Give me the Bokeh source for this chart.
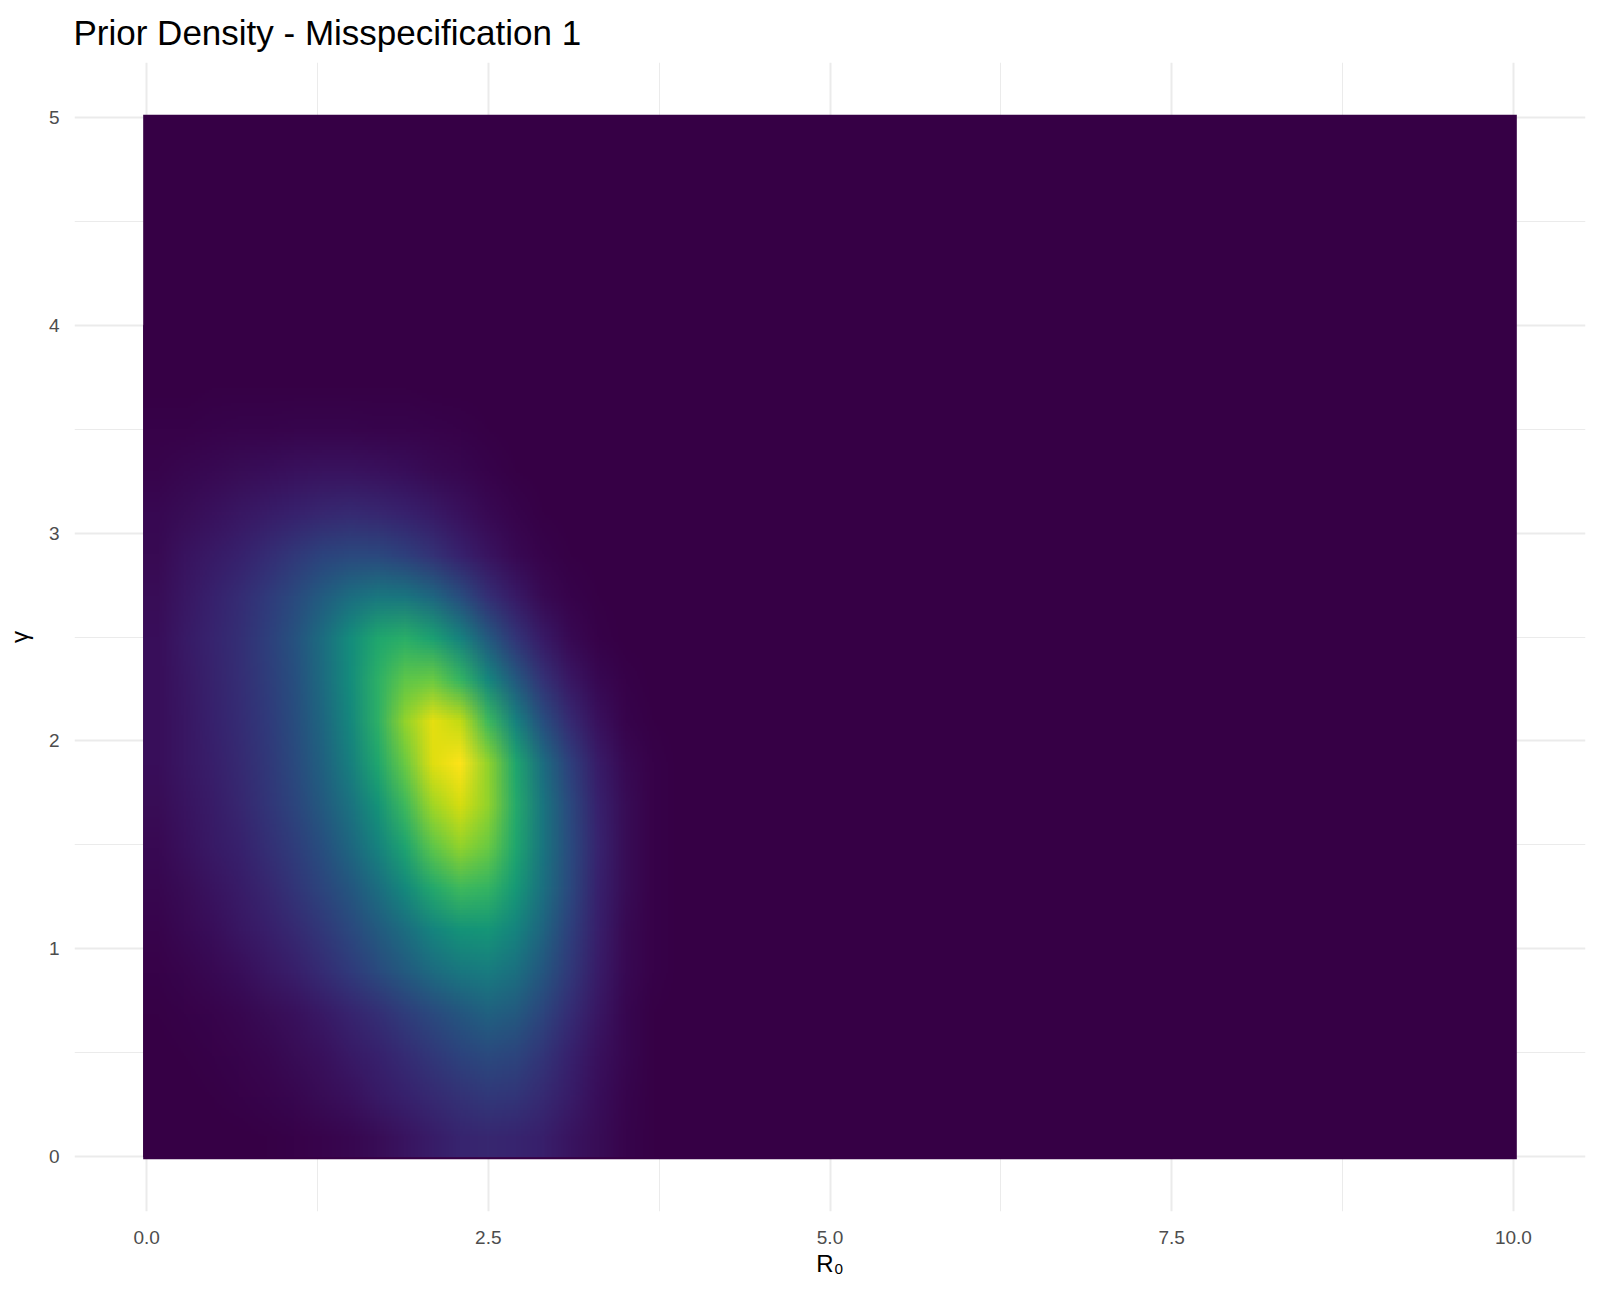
import base64
import struct
import zlib

import numpy as np
from bokeh.plotting import figure
from bokeh.models import FixedTicker, PrintfTickFormatter, Range1d
from bokeh.palettes import Viridis256
from bokeh.embed import file_html
from bokeh.resources import INLINE

# ---- data ---------------------------------------------------------------
title_text = "Prior Density - Misspecification 1"
x_label = "R\u2080"
y_label = "\u03b3"

r0_limits = [0.0, 10.0]
gamma_limits = [0.0, 5.0]
grid_cells = 200  # raster resolution of the original density grid

x_ticks = [0.0, 2.5, 5.0, 7.5, 10.0]
x_minor = [1.25, 3.75, 6.25, 8.75]
y_ticks = [0, 1, 2, 3, 4, 5]
y_minor = [0.5, 1.5, 2.5, 3.5, 4.5]

# cell centres of the read-off sub-grid (outside it the density is ~0)
r0_centres = [0.1, 0.3, 0.5, 0.7, 0.9, 1.1, 1.3, 1.5, 1.7, 1.9,
              2.1, 2.3, 2.5, 2.7, 2.9, 3.1, 3.3, 3.5, 3.7, 3.9]
gamma_centres = [0.1, 0.3, 0.5, 0.7, 0.9, 1.1, 1.3, 1.5, 1.7, 1.9,
                 2.1, 2.3, 2.5, 2.7, 2.9, 3.1, 3.3, 3.5, 3.7, 3.9]

# normalised density (0..1) along R0, one row per gamma centre
dens_g01 = [0, 0, 0, 0, 0.005, 0.01, 0.02, 0.03, 0.05, 0.08, 0.11, 0.14, 0.15, 0.14, 0.12, 0.08, 0.05, 0.02, 0.005, 0]
dens_g03 = [0, 0, 0.005, 0.01, 0.02, 0.03, 0.05, 0.07, 0.10, 0.13, 0.16, 0.19, 0.21, 0.20, 0.16, 0.11, 0.06, 0.025, 0.005, 0]
dens_g05 = [0, 0.005, 0.01, 0.02, 0.03, 0.05, 0.07, 0.10, 0.13, 0.17, 0.21, 0.25, 0.28, 0.26, 0.20, 0.13, 0.07, 0.03, 0.005, 0]
dens_g07 = [0.005, 0.01, 0.02, 0.03, 0.05, 0.07, 0.10, 0.14, 0.18, 0.23, 0.28, 0.33, 0.37, 0.34, 0.26, 0.17, 0.09, 0.03, 0.005, 0]
dens_g09 = [0.01, 0.025, 0.04, 0.06, 0.09, 0.12, 0.17, 0.22, 0.28, 0.34, 0.41, 0.46, 0.48, 0.43, 0.33, 0.21, 0.11, 0.04, 0.01, 0]
dens_g11 = [0.02, 0.04, 0.06, 0.09, 0.12, 0.16, 0.21, 0.27, 0.34, 0.42, 0.51, 0.57, 0.58, 0.51, 0.38, 0.24, 0.12, 0.045, 0.01, 0]
dens_g13 = [0.03, 0.05, 0.08, 0.11, 0.15, 0.20, 0.26, 0.33, 0.42, 0.53, 0.65, 0.72, 0.70, 0.59, 0.43, 0.27, 0.13, 0.05, 0.01, 0]
dens_g15 = [0.04, 0.07, 0.10, 0.13, 0.18, 0.23, 0.30, 0.39, 0.50, 0.63, 0.78, 0.86, 0.80, 0.64, 0.45, 0.28, 0.14, 0.05, 0.01, 0]
dens_g17 = [0.05, 0.08, 0.11, 0.15, 0.20, 0.26, 0.34, 0.44, 0.57, 0.72, 0.88, 0.95, 0.86, 0.66, 0.45, 0.27, 0.13, 0.05, 0.01, 0]
dens_g19 = [0.06, 0.09, 0.12, 0.16, 0.21, 0.28, 0.37, 0.49, 0.64, 0.80, 0.96, 1.00, 0.86, 0.64, 0.42, 0.24, 0.11, 0.04, 0.01, 0]
dens_g21 = [0.06, 0.09, 0.13, 0.17, 0.22, 0.29, 0.39, 0.52, 0.68, 0.86, 0.97, 0.92, 0.72, 0.50, 0.30, 0.16, 0.07, 0.02, 0.005, 0]
dens_g23 = [0.06, 0.095, 0.135, 0.175, 0.23, 0.30, 0.41, 0.54, 0.68, 0.78, 0.80, 0.70, 0.52, 0.34, 0.19, 0.09, 0.035, 0.01, 0, 0]
dens_g25 = [0.06, 0.10, 0.14, 0.18, 0.24, 0.31, 0.42, 0.54, 0.64, 0.67, 0.62, 0.50, 0.34, 0.20, 0.10, 0.04, 0.01, 0, 0, 0]
dens_g27 = [0.055, 0.09, 0.13, 0.17, 0.22, 0.28, 0.35, 0.42, 0.46, 0.45, 0.39, 0.29, 0.18, 0.10, 0.045, 0.015, 0.005, 0, 0, 0]
dens_g29 = [0.045, 0.075, 0.10, 0.13, 0.17, 0.21, 0.25, 0.27, 0.27, 0.24, 0.19, 0.13, 0.08, 0.04, 0.015, 0.005, 0, 0, 0, 0]
dens_g31 = [0.035, 0.05, 0.07, 0.09, 0.11, 0.13, 0.15, 0.16, 0.15, 0.13, 0.10, 0.07, 0.04, 0.02, 0.005, 0, 0, 0, 0, 0]
dens_g33 = [0.02, 0.03, 0.04, 0.05, 0.06, 0.07, 0.075, 0.075, 0.07, 0.06, 0.045, 0.03, 0.015, 0.005, 0, 0, 0, 0, 0, 0]
dens_g35 = [0.01, 0.01, 0.015, 0.02, 0.02, 0.025, 0.025, 0.025, 0.02, 0.02, 0.015, 0.01, 0.005, 0, 0, 0, 0, 0, 0, 0]
dens_g37 = [0.0, 0.0, 0.005, 0.005, 0.005, 0.005, 0.005, 0.005, 0.005, 0.005, 0.0, 0.0, 0.0, 0, 0, 0, 0, 0, 0, 0]
dens_g39 = [0.0] * 20

density = np.array([dens_g01, dens_g03, dens_g05, dens_g07, dens_g09, dens_g11,
                    dens_g13, dens_g15, dens_g17, dens_g19, dens_g21, dens_g23,
                    dens_g25, dens_g27, dens_g29, dens_g31, dens_g33, dens_g35,
                    dens_g37, dens_g39], dtype=float)

# ---- colour palette (viridis, rendered slightly darker as in the reference) ----
def _shade(hexcol, k=1.18):
    rgb = [int(hexcol[i:i + 2], 16) for i in (1, 3, 5)]
    return tuple(int(round(255 * (c / 255.0) ** k)) for c in rgb)

palette_rgb = [_shade(c) for c in Viridis256]
palette_hex = ["#%02x%02x%02x" % c for c in palette_rgb]


def density_png(values):
    """Encode the density cells (coloured by the palette) as a PNG data URL."""
    rows = values[::-1]  # PNG rows run top to bottom
    idx = np.clip(np.round(rows * (len(palette_rgb) - 1)), 0, len(palette_rgb) - 1).astype(int)
    h, w = idx.shape
    raw = b"".join(b"\x00" + bytes([ch for j in r for ch in palette_rgb[j]]) for r in idx)

    def chunk(tag, data):
        return (struct.pack(">I", len(data)) + tag + data
                + struct.pack(">I", zlib.crc32(tag + data) & 0xFFFFFFFF))

    png = (b"\x89PNG\r\n\x1a\n"
           + chunk(b"IHDR", struct.pack(">IIBBBBB", w, h, 8, 2, 0, 0, 0))
           + chunk(b"IDAT", zlib.compress(raw, 9))
           + chunk(b"IEND", b""))
    return "data:image/png;base64," + base64.b64encode(png).decode()


# ---- geometry derived from the data ----------------------------------------
dx = (r0_limits[1] - r0_limits[0]) / (grid_cells - 1)
dy = (gamma_limits[1] - gamma_limits[0]) / (grid_cells - 1)
rx0, rx1 = r0_limits[0] - dx / 2, r0_limits[1] + dx / 2
ry0, ry1 = gamma_limits[0] - dy / 2, gamma_limits[1] + dy / 2
ex = (rx1 - rx0) * 0.05
ey = (ry1 - ry0) * 0.05

sx = r0_centres[1] - r0_centres[0]
sy = gamma_centres[1] - gamma_centres[0]
# read-off cells span the raster from its left edge; the bottom edge is kept
# a hair inside the raster so the smoothed image fringe does not show
img_x = rx0
img_y = ry0 + dy * 0.4
img_dw = (r0_centres[-1] + sx / 2) - rx0
img_dh = (gamma_centres[-1] + sy / 2) - img_y

FONT = "Liberation Sans"
GRID = "#EBEBEB"

p = figure(width=1590, height=1290, output_backend="svg", toolbar_location=None,
           x_range=Range1d(rx0 - ex, rx1 + ex), y_range=Range1d(ry0 - ey, ry1 + ey),
           min_border_left=74, min_border_right=5, min_border_top=62, min_border_bottom=79,
           title=title_text)
p.outline_line_color = None
p.background_fill_color = "white"
p.border_fill_color = "white"

p.title.text_font = FONT
p.title.text_font_size = "35px"
p.title.text_font_style = "normal"
p.title.text_color = "black"
p.title.align = "left"
p.title.offset = -1
p.title.standoff = 21

# full raster extent (density ~ 0 outside the read-off sub-grid)
p.quad(left=[rx0], right=[rx1], bottom=[ry0], top=[ry1],
       fill_color=palette_hex[0], line_color=None)
p.image_url(url=[density_png(density)], x=img_x, y=img_y, w=img_dw, h=img_dh,
            anchor="bottom_left")

for ax, ticks, minor, fmt in ((p.xaxis[0], x_ticks, x_minor, "%.1f"),
                              (p.yaxis[0], y_ticks, y_minor, "%d")):
    ax.ticker = FixedTicker(ticks=ticks, minor_ticks=minor)
    ax.formatter = PrintfTickFormatter(format=fmt)
    ax.axis_line_color = None
    ax.major_tick_line_color = None
    ax.minor_tick_line_color = None
    ax.major_tick_out = 0
    ax.major_tick_in = 0
    ax.minor_tick_out = 0
    ax.minor_tick_in = 0
    ax.major_label_text_font = FONT
    ax.major_label_text_font_size = "19px"
    ax.major_label_text_color = "#4D4D4D"
    ax.axis_label_text_font = FONT
    ax.axis_label_text_font_size = "24px"
    ax.axis_label_text_font_style = "normal"
    ax.axis_label_text_color = "black"

p.xaxis.axis_label = x_label
p.yaxis.axis_label = y_label
p.xaxis.major_label_standoff = 19
p.yaxis.major_label_standoff = 15
p.xaxis.axis_label_standoff = 3
p.yaxis.axis_label_standoff = 13

for g, ticks, minor in ((p.xgrid[0], x_ticks, x_minor), (p.ygrid[0], y_ticks, y_minor)):
    g.ticker = FixedTicker(ticks=ticks, minor_ticks=minor)
    g.grid_line_color = GRID
    g.grid_line_width = 2
    g.minor_grid_line_color = GRID
    g.minor_grid_line_width = 1

open("out.html", "w").write(file_html(p, INLINE))
